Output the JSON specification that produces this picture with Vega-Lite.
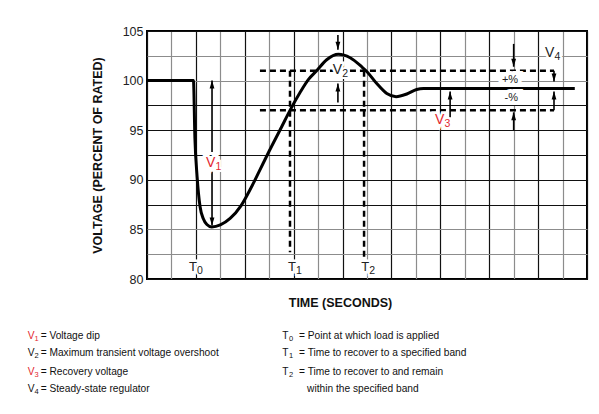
{
  "$schema": "https://vega.github.io/schema/vega-lite/v6.json",
  "width": 440,
  "height": 248,
  "autosize": {"type": "none"},
  "padding": {"left": 147, "top": 31, "right": 12, "bottom": 135},
  "background": "white",
  "config": {
    "view": {"stroke": "#000", "strokeWidth": 2},
    "font": "Liberation Sans"
  },
  "datasets": {
    "curve": [
      {"x": 0, "y": 100}, {"x": 1.9, "y": 100}, {"x": 1.96, "y": 94.2}, {"x": 2.05, "y": 90.3},
      {"x": 2.17, "y": 87.3}, {"x": 2.3, "y": 86.1}, {"x": 2.45, "y": 85.5}, {"x": 2.65, "y": 85.25},
      {"x": 3.0, "y": 85.45}, {"x": 3.4, "y": 86.1}, {"x": 3.85, "y": 87.4}, {"x": 4.3, "y": 89.4},
      {"x": 4.6, "y": 90.9}, {"x": 5.0, "y": 92.9}, {"x": 5.5, "y": 95.3}, {"x": 5.85, "y": 97.0},
      {"x": 6.26, "y": 98.8}, {"x": 6.6, "y": 100.1}, {"x": 6.94, "y": 101.0}, {"x": 7.35, "y": 102.1},
      {"x": 7.83, "y": 102.65}, {"x": 8.31, "y": 102.3}, {"x": 8.78, "y": 101.4}, {"x": 9.0, "y": 100.9},
      {"x": 9.4, "y": 99.7}, {"x": 9.81, "y": 98.7}, {"x": 10.19, "y": 98.38}, {"x": 10.63, "y": 98.65},
      {"x": 11.03, "y": 99.1}, {"x": 11.31, "y": 99.2}, {"x": 17.5, "y": 99.2}
    ],
    "dash": [
      {"x": 4.62, "x2": 16.65, "y": 101, "y2": 101},
      {"x": 4.62, "x2": 16.65, "y": 97, "y2": 97},
      {"x": 5.85, "x2": 5.85, "y": 101, "y2": 82.7},
      {"x": 8.88, "x2": 8.88, "y": 101, "y2": 81.9}
    ],
    "arrows": [
      {"x": 2.66, "y": 92.8, "y2": 100.0, "dir": "up"},
      {"x": 2.66, "y": 90.8, "y2": 85.4, "dir": "down"},
      {"x": 7.81, "y": 104.6, "y2": 103.1, "dir": "down"},
      {"x": 7.81, "y": 97.8, "y2": 99.7, "dir": "up"},
      {"x": 12.4, "y": 96.3, "y2": 98.9, "dir": "up"},
      {"x": 15.0, "y": 103.7, "y2": 101.4, "dir": "down"},
      {"x": 15.0, "y": 95.0, "y2": 96.8, "dir": "up"},
      {"x": 16.65, "y": 101.0, "y2": 99.9, "dir": "down"},
      {"x": 16.65, "y": 97.0, "y2": 98.9, "dir": "up"}
    ],
    "vlab": [
      {"x": 2.41, "y": 91.7, "main": "V", "sub": "1"},
      {"x": 7.6, "y": 101.05, "main": "V", "sub": "2"},
      {"x": 11.78, "y": 96.0, "main": "V", "sub": "3"},
      {"x": 16.28, "y": 102.8, "main": "V", "sub": "4"}
    ],
    "tlab": [
      {"x": 1.72, "y": 81.2, "main": "T", "sub": "0"},
      {"x": 5.77, "y": 81.2, "main": "T", "sub": "1"},
      {"x": 8.76, "y": 81.2, "main": "T", "sub": "2"}
    ],
    "pct": [
      {"x": 14.85, "y": 100.05, "label": "+%"},
      {"x": 14.9, "y": 98.2, "label": "-%"}
    ],
    "legsym": [
      {"x": -4.88, "y": 74.25, "main": "V", "sub": "1"},
      {"x": -4.88, "y": 72.54, "main": "V", "sub": "2"},
      {"x": -4.88, "y": 70.62, "main": "V", "sub": "3"},
      {"x": -4.88, "y": 68.91, "main": "V", "sub": "4"},
      {"x": 5.535, "y": 74.25, "main": "T", "sub": "0"},
      {"x": 5.535, "y": 72.54, "main": "T", "sub": "1"},
      {"x": 5.535, "y": 70.62, "main": "T", "sub": "2"}
    ],
    "legdesc": [
      {"x": -4.35, "y": 74.25, "desc": "= Voltage dip"},
      {"x": -4.35, "y": 72.54, "desc": "= Maximum transient voltage overshoot"},
      {"x": -4.35, "y": 70.62, "desc": "= Recovery voltage"},
      {"x": -4.35, "y": 68.91, "desc": "= Steady-state regulator"},
      {"x": 6.22, "y": 74.25, "desc": "= Point at which load is applied"},
      {"x": 6.22, "y": 72.54, "desc": "= Time to recover to a specified band"},
      {"x": 6.22, "y": 70.62, "desc": "= Time to recover to and remain"},
      {"x": 6.55, "y": 68.91, "desc": "within the specified band"}
    ]
  },
  "encoding": {
    "x": {
      "field": "x", "type": "quantitative",
      "scale": {"domain": [0, 18], "nice": false, "zero": false},
      "axis": {
        "title": "TIME (SECONDS)",
        "values": [0,1,2,3,4,5,6,7,8,9,10,11,12,13,14,15,16,17,18],
        "grid": true, "labels": false, "ticks": false, "domain": false,
        "gridColor": {"condition": {"test": "datum.value % 2 === 1", "value": "#8c8c8c"}, "value": "#111111"},
        "gridWidth": 1.2, "gridOpacity": 1,
        "titleFontWeight": "bold", "titleFontSize": 12.5, "titleColor": "#111",
        "titleX": 193, "titleY": 23, "titleAlign": "center", "titleBaseline": "middle"
      }
    },
    "y": {
      "field": "y", "type": "quantitative",
      "scale": {"domain": [80, 105], "nice": false, "zero": false},
      "axis": {
        "title": "VOLTAGE (PERCENT OF RATED)",
        "values": [80, 82.5, 85, 87.5, 90, 92.5, 95, 97.5, 100, 102.5, 105],
        "labelExpr": "datum.value % 5 === 0 ? datum.label : ''",
        "grid": true, "ticks": false, "domain": false,
        "gridColor": {"condition": {"test": "indexof([82.5, 85, 100, 102.5], datum.value) >= 0", "value": "#8c8c8c"}, "value": "#111111"},
        "gridWidth": 1.2, "gridOpacity": 1,
        "labelFontSize": 12.5, "labelColor": "#222", "labelPadding": 4,
        "titleFontWeight": "bold", "titleFontSize": 12.5, "titleColor": "#111",
        "titleX": -50, "titleY": 124, "titleAngle": -90, "titleAlign": "center", "titleBaseline": "middle"
      }
    }
  },
  "layer": [
    {
      "data": {"name": "curve"},
      "mark": {"type": "line", "color": "#000", "strokeWidth": 3, "interpolate": "monotone"},
      "encoding": {}
    },
    {
      "data": {"name": "dash"},
      "mark": {"type": "rule", "color": "#000", "strokeWidth": 2.5, "strokeDash": [6, 4]},
      "encoding": {
        "x2": {"field": "x2"},
        "y2": {"field": "y2"}
      }
    },
    {
      "data": {"name": "arrows"},
      "mark": {"type": "rule", "color": "#000", "strokeWidth": 1.6},
      "encoding": {
        "y2": {"field": "y2"}
      }
    },
    {
      "data": {"name": "arrows"},
      "mark": {"type": "point", "filled": true, "color": "#000", "opacity": 1, "size": 64},
      "encoding": {
        "y": {"field": "y2", "type": "quantitative"},
        "shape": {
          "field": "dir", "type": "nominal", "legend": null,
          "scale": {"domain": ["up", "down"], "range": ["M0,0L0.6,2L-0.6,2Z", "M0,0L0.6,-2L-0.6,-2Z"]}
        }
      }
    },
    {
      "data": {"name": "vlab"},
      "mark": {"type": "text", "align": "left", "baseline": "middle", "fontSize": 14, "stroke": "white", "strokeWidth": 5, "fill": "white"},
      "encoding": {"text": {"field": "main"}}
    },
    {
      "data": {"name": "vlab"},
      "mark": {"type": "text", "align": "left", "baseline": "middle", "fontSize": 10.5, "dx": 9.5, "dy": 4, "stroke": "white", "strokeWidth": 4, "fill": "white"},
      "encoding": {"text": {"field": "sub"}}
    },
    {
      "data": {"name": "vlab"},
      "mark": {"type": "text", "align": "left", "baseline": "middle", "fontSize": 14},
      "encoding": {
        "text": {"field": "main"},
        "color": {"condition": {"test": "datum.sub === '1' || datum.sub === '3'", "value": "#e3262f"}, "value": "#222"}
      }
    },
    {
      "data": {"name": "vlab"},
      "mark": {"type": "text", "align": "left", "baseline": "middle", "fontSize": 10.5, "dx": 9.5, "dy": 4},
      "encoding": {
        "text": {"field": "sub"},
        "color": {"condition": {"test": "datum.sub === '1' || datum.sub === '3'", "value": "#e3262f"}, "value": "#222"}
      }
    },
    {
      "data": {"name": "tlab"},
      "mark": {"type": "text", "align": "left", "baseline": "middle", "fontSize": 13, "stroke": "white", "strokeWidth": 5, "fill": "white"},
      "encoding": {"text": {"field": "main"}}
    },
    {
      "data": {"name": "tlab"},
      "mark": {"type": "text", "align": "left", "baseline": "middle", "fontSize": 10.5, "dx": 8, "dy": 3.5, "stroke": "white", "strokeWidth": 4, "fill": "white"},
      "encoding": {"text": {"field": "sub"}}
    },
    {
      "data": {"name": "tlab"},
      "mark": {"type": "text", "align": "left", "baseline": "middle", "fontSize": 13, "color": "#222"},
      "encoding": {"text": {"field": "main"}}
    },
    {
      "data": {"name": "tlab"},
      "mark": {"type": "text", "align": "left", "baseline": "middle", "fontSize": 10.5, "dx": 8, "dy": 3.5, "color": "#222"},
      "encoding": {"text": {"field": "sub"}}
    },
    {
      "data": {"name": "pct"},
      "mark": {"type": "text", "align": "center", "baseline": "middle", "fontSize": 11, "stroke": "white", "strokeWidth": 8, "fill": "white"},
      "encoding": {"text": {"field": "label"}}
    },
    {
      "data": {"name": "pct"},
      "mark": {"type": "text", "align": "center", "baseline": "middle", "fontSize": 11, "color": "#222"},
      "encoding": {"text": {"field": "label"}}
    },
    {
      "data": {"name": "legsym"},
      "mark": {"type": "text", "align": "left", "baseline": "middle", "fontSize": 10.2},
      "encoding": {
        "text": {"field": "main"},
        "color": {"condition": {"test": "datum.main === 'V' && (datum.sub === '1' || datum.sub === '3')", "value": "#e3262f"}, "value": "#111"}
      }
    },
    {
      "data": {"name": "legsym"},
      "mark": {"type": "text", "align": "left", "baseline": "middle", "fontSize": 7.5, "dx": 6.8, "dy": 2.5},
      "encoding": {
        "text": {"field": "sub"},
        "color": {"condition": {"test": "datum.main === 'V' && (datum.sub === '1' || datum.sub === '3')", "value": "#e3262f"}, "value": "#111"}
      }
    },
    {
      "data": {"name": "legdesc"},
      "mark": {"type": "text", "align": "left", "baseline": "middle", "fontSize": 10.2, "color": "#111"},
      "encoding": {"text": {"field": "desc"}}
    }
  ]
}
